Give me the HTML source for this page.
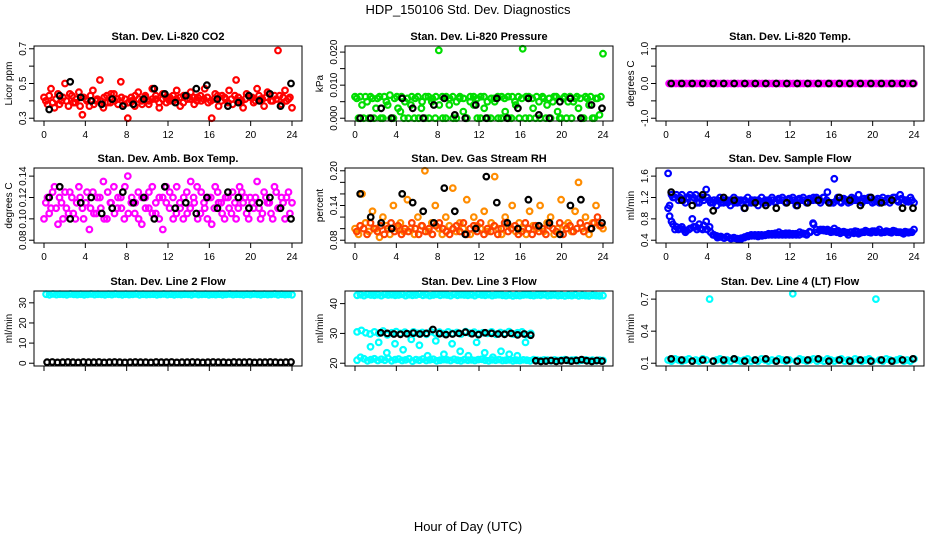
<!DOCTYPE html>
<html><head><meta charset="utf-8"><style>
body{margin:0;background:#fff;width:936px;height:540px;overflow:hidden;font-family:"Liberation Sans",sans-serif}
svg text{font-family:"Liberation Sans",sans-serif}
</style></head><body>
<svg id="chart" width="936" height="540" xmlns="http://www.w3.org/2000/svg">
<text x="468" y="14" text-anchor="middle" font-size="13">HDP_150106  Std. Dev. Diagnostics</text>
<text x="468" y="531" text-anchor="middle" font-size="13">Hour of Day (UTC)</text>
</svg>
<script>
const xTicks=[0,4,8,12,16,20,24];
// CO2
const co2Red=[0.42,0.38,0.47,0.36,0.44,0.40,0.50,0.37,0.43,0.39,0.45,0.32,0.41,0.37,0.46,0.40,0.52,0.36,0.43,0.39,0.44,0.41,0.51,0.38,0.30,0.42,0.37,0.45,0.40,0.43,0.38,0.47,0.41,0.36,0.44,0.39,0.42,0.40,0.46,0.37,0.43,0.41,0.45,0.38,0.42,0.40,0.47,0.39,0.30,0.44,0.37,0.43,0.41,0.46,0.38,0.52,0.40,0.36,0.44,0.42,0.39,0.47,0.41,0.37,0.45,0.40,0.43,0.69,0.38,0.46,0.41,0.36];
const co2Red2=[0.40,0.43,0.39,0.41,0.38,0.42,0.40,0.44,0.39,0.41,0.37,0.42,0.40,0.43,0.38,0.41,0.40,0.42,0.39,0.44,0.40,0.38,0.42,0.41,0.39,0.40,0.43,0.41,0.38,0.42,0.40,0.41,0.43,0.39,0.41,0.42,0.40,0.43,0.41,0.42,0.39,0.43,0.41,0.42,0.40,0.43,0.41,0.42,0.40,0.41,0.43,0.40,0.42,0.39,0.41,0.43,0.42,0.40,0.41,0.43,0.42,0.40,0.43,0.41,0.42,0.44,0.40,0.41,0.43,0.42,0.40,0.42];
const co2Black=[0.35,0.43,0.51,0.42,0.40,0.38,0.41,0.37,0.38,0.41,0.47,0.44,0.39,0.43,0.47,0.49,0.41,0.37,0.39,0.43,0.40,0.44,0.37,0.50];
// Pressure
const presGreen=[0.0065,0.000,0.004,0.0065,0.000,0.006,0.003,0.0065,0.000,0.005,0.0070,0.000,0.0065,0.002,0.000,0.006,0.004,0.000,0.0065,0.003,0.000,0.0065,0.005,0.000,0.0205,0.0065,0.000,0.004,0.0065,0.000,0.006,0.002,0.000,0.0065,0.004,0.000,0.0065,0.003,0.000,0.006,0.005,0.000,0.0065,0.002,0.000,0.0065,0.004,0.000,0.0210,0.0065,0.000,0.003,0.0065,0.000,0.006,0.004,0.000,0.0065,0.002,0.000,0.0065,0.005,0.000,0.006,0.003,0.000,0.0065,0.004,0.000,0.006,0.001,0.0195];
const presGreen2=[0.006,0.0065,0.000,0.005,0.0065,0.000,0.006,0.000,0.0065,0.004,0.000,0.006,0.003,0.0065,0.005,0.000,0.0065,0.006,0.000,0.005,0.0065,0.000,0.006,0.0065,0.004,0.000,0.0065,0.006,0.000,0.005,0.0065,0.006,0.000,0.005,0.0065,0.006,0.000,0.0065,0.005,0.000,0.006,0.0065,0.000,0.006,0.0065,0.000,0.005,0.0065,0.006,0.000,0.0065,0.006,0.000,0.005,0.0065,0.000,0.006,0.005,0.0065,0.000,0.006,0.000,0.0065,0.005,0.0065,0.006,0.000,0.006,0.0065,0.000,0.006,0.0065];
const presBlack=[0.000,0.000,0.003,0.000,0.006,0.003,0.000,0.004,0.006,0.001,0.000,0.004,0.000,0.006,0.000,0.003,0.006,0.001,0.000,0.005,0.006,0.000,0.004,0.003];
// Temperature
const tempMag=[0,0,0,0,0,0,0,0,0,0,0,0,0,0,0,0,0,0,0,0,0,0,0,0,0,0,0,0,0,0,0,0,0,0,0,0,0,0,0,0,0,0,0,0,0,0,0,0,0,0,0,0,0,0,0,0,0,0,0,0,0,0,0,0,0,0,0,0,0,0,0,0];
const tempBlack=[0,0,0,0,0,0,0,0,0,0,0,0,0,0,0,0,0,0,0,0,0,0,0,0];
// Amb box temp
const ambMag=[0.10,0.12,0.11,0.13,0.095,0.115,0.125,0.105,0.12,0.10,0.13,0.11,0.115,0.09,0.125,0.105,0.12,0.135,0.10,0.115,0.13,0.11,0.12,0.10,0.14,0.115,0.105,0.125,0.095,0.12,0.11,0.13,0.105,0.12,0.09,0.115,0.125,0.10,0.13,0.11,0.12,0.105,0.135,0.115,0.10,0.125,0.11,0.12,0.095,0.13,0.115,0.105,0.12,0.11,0.125,0.10,0.13,0.115,0.105,0.12,0.11,0.135,0.10,0.125,0.115,0.105,0.13,0.11,0.12,0.10,0.125,0.115];
const ambMag2=[0.115,0.105,0.125,0.11,0.12,0.10,0.11,0.125,0.105,0.115,0.12,0.10,0.125,0.11,0.105,0.12,0.11,0.10,0.125,0.115,0.105,0.12,0.11,0.13,0.105,0.12,0.115,0.10,0.12,0.11,0.125,0.105,0.115,0.10,0.12,0.13,0.11,0.12,0.105,0.115,0.10,0.125,0.11,0.12,0.13,0.105,0.115,0.10,0.12,0.11,0.125,0.115,0.10,0.12,0.105,0.115,0.11,0.125,0.12,0.10,0.115,0.12,0.11,0.105,0.12,0.115,0.10,0.125,0.11,0.115,0.12,0.105];
const ambBlack=[0.12,0.13,0.10,0.115,0.12,0.105,0.11,0.125,0.115,0.12,0.10,0.13,0.11,0.115,0.105,0.12,0.11,0.125,0.12,0.11,0.115,0.12,0.11,0.10];
// Gas stream RH
const rhOrange=[0.10,0.09,0.16,0.11,0.095,0.13,0.10,0.085,0.12,0.105,0.09,0.14,0.10,0.11,0.095,0.15,0.10,0.09,0.12,0.105,0.20,0.095,0.11,0.14,0.10,0.09,0.12,0.105,0.17,0.095,0.11,0.10,0.15,0.09,0.12,0.105,0.10,0.13,0.095,0.11,0.19,0.10,0.09,0.12,0.105,0.14,0.095,0.11,0.10,0.09,0.13,0.105,0.10,0.14,0.095,0.11,0.12,0.09,0.10,0.15,0.105,0.11,0.095,0.13,0.18,0.10,0.12,0.09,0.11,0.14,0.105,0.10];
const rhOrange2=[0.095,0.105,0.10,0.09,0.11,0.10,0.095,0.105,0.09,0.10,0.11,0.095,0.105,0.09,0.10,0.095,0.11,0.10,0.09,0.105,0.095,0.10,0.09,0.105,0.11,0.10,0.095,0.09,0.10,0.105,0.095,0.11,0.09,0.10,0.105,0.095,0.11,0.09,0.10,0.095,0.105,0.09,0.10,0.11,0.095,0.10,0.105,0.09,0.095,0.11,0.10,0.09,0.105,0.095,0.10,0.09,0.105,0.10,0.095,0.11,0.09,0.10,0.105,0.095,0.10,0.11,0.095,0.105,0.10,0.11,0.12,0.105];
const rhBlack=[0.16,0.12,0.11,0.10,0.16,0.145,0.13,0.11,0.17,0.13,0.09,0.10,0.19,0.145,0.11,0.10,0.15,0.105,0.11,0.09,0.14,0.15,0.10,0.11];
// Sample flow
const sfUpper=[1.65,1.25,1.2,1.15,1.25,1.1,1.2,1.15,1.25,1.1,1.2,1.35,1.15,1.1,1.05,1.2,1.1,1.15,1.05,1.2,1.1,1.15,1.0,1.2,1.1,1.15,1.05,1.2,1.1,1.15,1.2,1.1,1.15,1.2,1.1,1.15,1.2,1.05,1.15,1.2,1.1,1.15,1.2,1.15,1.1,1.2,1.3,1.1,1.55,1.2,1.1,1.15,1.1,1.2,1.15,1.25,1.1,1.15,1.2,1.1,1.15,1.1,1.2,1.15,1.1,1.2,1.15,1.25,1.1,1.15,1.2,1.1];
const sfUpper2=[1.05,1.2,1.25,1.2,1.15,1.2,1.25,1.2,1.1,1.2,1.15,1.2,1.1,1.15,1.15,1.1,1.15,1.1,1.15,1.1,1.15,1.1,1.15,1.1,1.15,1.1,1.15,1.12,1.15,1.1,1.15,1.12,1.18,1.15,1.12,1.18,1.15,1.12,1.18,1.15,1.12,1.18,1.15,1.2,1.15,1.2,1.15,1.1,1.1,1.15,1.12,1.18,1.15,1.12,1.18,1.15,1.12,1.18,1.15,1.2,1.12,1.18,1.15,1.12,1.18,1.15,1.2,1.12,1.18,1.15,1.12,1.15];
const sfLower=[1.0,0.75,0.6,0.6,0.65,0.55,0.6,0.8,0.65,0.7,0.6,0.75,0.65,0.5,0.48,0.46,0.45,0.47,0.44,0.45,0.43,0.42,0.45,0.48,0.5,0.48,0.47,0.5,0.49,0.5,0.52,0.5,0.55,0.5,0.53,0.5,0.52,0.5,0.55,0.52,0.5,0.55,0.7,0.55,0.6,0.58,0.6,0.55,0.62,0.58,0.55,0.55,0.5,0.55,0.57,0.52,0.55,0.58,0.55,0.57,0.55,0.6,0.55,0.57,0.55,0.58,0.55,0.55,0.52,0.55,0.55,0.6];
const sfLower2=[0.85,0.7,0.65,0.62,0.6,0.58,0.62,0.65,0.6,0.62,0.68,0.6,0.55,0.5,0.45,0.47,0.44,0.46,0.43,0.44,0.42,0.44,0.46,0.47,0.48,0.5,0.5,0.48,0.5,0.52,0.5,0.53,0.5,0.52,0.5,0.53,0.5,0.52,0.5,0.53,0.52,0.56,0.72,0.6,0.58,0.6,0.57,0.58,0.56,0.55,0.53,0.56,0.54,0.55,0.53,0.56,0.54,0.55,0.56,0.54,0.57,0.56,0.54,0.55,0.56,0.54,0.57,0.55,0.54,0.56,0.54,0.55];
const sfBlack=[1.3,1.15,1.05,1.25,0.95,1.2,1.15,1.0,1.1,1.05,1.0,1.1,1.05,1.1,1.15,1.1,1.2,1.15,1.05,1.2,1.1,1.15,1.0,1.0];
// Line 2
const l2Cyan=[34.3,34.0,34.4,34.1,34.3,34.2,34.0,34.4,34.2,34.1,34.3,34.0,34.2,34.4,34.1,34.3,34.2,34.0,34.3,34.1,34.4,34.2,34.0,34.3,34.1,34.2,34.4,34.0,34.3,34.1,34.2,34.3,34.0,34.2,34.4,34.1,34.3,34.0,34.2,34.1,34.3,34.2,34.0,34.4,34.1,34.2,34.3,34.0,34.2,34.1,34.3,34.0,34.2,34.4,34.1,34.3,34.2,34.0,34.3,34.1,34.4,34.2,34.0,34.3,34.1,34.2,34.4,34.0,34.3,34.1,34.2,34.0];
const l2Black=[0.5,0.6,0.4,0.5,0.6,0.5,0.4,0.6,0.5,0.5,0.6,0.4,0.5,0.6,0.5,0.4,0.5,0.6,0.5,0.5,0.4,0.6,0.5,0.5,0.6,0.4,0.5,0.5,0.6,0.5,0.4,0.5,0.6,0.5,0.5,0.4,0.6,0.5,0.5,0.6,0.4,0.5,0.5,0.6,0.5,0.4,0.5,0.6];
// Line 3
const l3Top=[42.8,43.0,42.7,43.1,42.9,42.8,43.0,42.7,43.1,42.9,43.0,42.8,42.9,43.1,42.7,43.0,42.8,42.9,43.2,42.8,43.0,42.7,42.9,43.1,42.8,43.0,42.9,42.7,43.1,42.8,43.0,42.9,42.8,43.0,42.7,43.1,42.9,42.8,43.0,42.7,42.9,43.0,42.8,42.7,42.9,42.6,42.8,42.7,42.9,43.0,42.8,42.7,42.9,42.8,43.0,42.7,42.8,42.9,42.7,42.8,42.6,42.8,42.7,42.9,42.6,42.8,42.7,42.6,42.8,42.7,42.6,42.7];
const l3Mid=[30.5,31.0,30.2,29.8,30.5,30.0,30.8,29.5,30.2,30.6,30.0,30.4,29.8,30.5,30.0,30.3,29.7,30.6,30.1,30.4,29.9,30.5,30.0,30.3,29.8,30.6,30.1,30.4,29.9,30.2,30.0,30.5,29.7,30.3,30.0,30.6,29.8,30.2,30.5,29.6,30.0];
const l3Scatter=[25.5,27.0,23.5,26.5,24.5,28.0,26.0,22.5,27.5,23.0,26.5,24.0,22.5,27.0,23.5,22.0,24.0,23.0,22.5,27.0];
const l3Low=[21.0,22.0,21.5,20.8,21.2,21.5,20.9,21.3,21.0,21.6,20.8,21.2,21.4,20.9,21.1,21.5,20.7,21.2,21.0,21.4,20.9,21.1,21.3,20.8,21.0,21.2,21.1,20.9,21.3,21.0,20.8,21.2,21.0,21.1,20.9,21.2,21.3,21.0,20.8,21.1,21.0,21.2,20.9,21.0,21.1,20.8,21.0,20.9,21.1,21.0,20.8,21.2,21.0,20.9,21.1,21.0,20.8,21.1,20.9,21.0,21.2,20.9,21.0,21.1,20.8,21.0,21.1,20.9,21.0,20.8,21.0,20.9];
const l3BlackMid=[30.2,30.0,29.8,29.7,29.9,30.1,29.8,30.0,31.3,29.9,29.6,29.8,30.0,30.4,29.9,29.6,30.2,30.0,29.8,29.7,30.0,29.5,29.8,29.4];
const l3BlackLow=[20.8,20.6,20.7,20.9,20.6,20.8,21.0,20.7,20.9,21.2,20.8,20.6,20.9,20.7];
// Line 4
const l4Cyan=[0.13,0.12,0.14,0.13,0.12,0.13,0.14,0.12,0.13,0.12,0.14,0.13,0.70,0.12,0.13,0.14,0.12,0.13,0.12,0.14,0.13,0.12,0.13,0.14,0.12,0.13,0.12,0.14,0.13,0.12,0.13,0.12,0.14,0.13,0.12,0.13,0.75,0.12,0.14,0.13,0.12,0.13,0.14,0.12,0.13,0.12,0.14,0.13,0.12,0.13,0.14,0.12,0.13,0.12,0.14,0.13,0.12,0.13,0.14,0.12,0.70,0.13,0.12,0.14,0.13,0.12,0.13,0.14,0.12,0.13,0.12,0.14];
const l4Black=[0.14,0.13,0.12,0.13,0.12,0.13,0.14,0.12,0.13,0.14,0.12,0.13,0.12,0.13,0.14,0.12,0.13,0.12,0.13,0.12,0.13,0.12,0.13,0.14];

const panels=[
 {t:"Stan. Dev. Li-820 CO2",yl:"Licor ppm",lim:[0.3,0.7],ticks:[0.3,0.4,0.5,0.6,0.7],labs:["0.3","","0.5","","0.7"],s:[[co2Red,"#ff0000",0,24],[co2Red2,"#ff0000",0.17,23.8],[co2Black,"#000",0.5,23.9]]},
 {t:"Stan. Dev. Li-820 Pressure",yl:"kPa",lim:[0,0.021],ticks:[0,0.005,0.01,0.015,0.02],labs:["0.000","","0.010","","0.020"],s:[[presGreen,"#00dd00",0,24],[presGreen2,"#00dd00",0.17,23.8],[presBlack,"#000",0.5,23.9]]},
 {t:"Stan. Dev. Li-820 Temp.",yl:"degrees C",lim:[-1,1],ticks:[-1,-0.5,0,0.5,1],labs:["-1.0","","0.0","","1.0"],s:[[tempMag,"#ff00ff",0.3,24],[tempBlack,"#000",0.5,23.9]]},
 {t:"Stan. Dev. Amb. Box Temp.",yl:"degrees C",lim:[0.08,0.145],ticks:[0.08,0.10,0.12,0.14],labs:["0.08","0.10","0.12","0.14"],s:[[ambMag,"#ff00ff",0,24],[ambMag2,"#ff00ff",0.17,23.8],[ambBlack,"#000",0.5,23.9]]},
 {t:"Stan. Dev. Gas Stream RH",yl:"percent",lim:[0.08,0.2],ticks:[0.08,0.10,0.12,0.14,0.16,0.18,0.2],labs:["0.08","","","0.14","","","0.20"],s:[[rhOrange,"#ff8c00",0,24],[rhOrange2,"#ff4000",0.17,23.8],[rhBlack,"#000",0.5,23.9]]},
 {t:"Stan. Dev. Sample Flow",yl:"ml/min",lim:[0.4,1.7],ticks:[0.4,0.8,1.2,1.6],labs:["0.4","0.8","1.2","1.6"],s:[[sfUpper,"#0000ff",0.2,24],[sfUpper2,"#0000ff",0.35,23.8],[sfLower,"#0000ff",0.2,24],[sfLower2,"#0000ff",0.35,23.8],[sfBlack,"#000",0.5,23.9]]},
 {t:"Stan. Dev. Line 2 Flow",yl:"ml/min",lim:[0,34.5],ticks:[0,10,20,30],labs:["0","10","20","30"],s:[[l2Cyan,"#00ffff",0.2,24],[l2Black,"#000",0.3,23.9]]},
 {t:"Stan. Dev. Line 3 Flow",yl:"ml/min",lim:[20,43.3],ticks:[20,30,40],labs:["20","30","40"],s:[[l3Top,"#00ffff",0.2,24],[l3Mid,"#00ffff",0.2,17],[l3Scatter,"#00ffff",1.5,16.5],[l3Low,"#00ffff",0.2,24],[l3BlackMid,"#000",2.5,17],[l3BlackLow,"#000",17.5,23.9]]},
 {t:"Stan. Dev. Line 4 (LT) Flow",yl:"ml/min",lim:[0.1,0.75],ticks:[0.1,0.4,0.7],labs:["0.1","0.4","0.7"],s:[[l4Cyan,"#00ffff",0.2,24],[l4Black,"#000",0.5,23.9]]}
];
const NS="http://www.w3.org/2000/svg";
const svg=document.getElementById('chart');
function mk(tag,at,parent){const e=document.createElementNS(NS,tag);for(const k in at)e.setAttribute(k,at[k]);(parent||svg).appendChild(e);return e;}
const colL=[34,345,656],rowT=[46,168,291],W=268,H=75;
panels.forEach((p,pi)=>{
 const L=colL[pi%3],T=rowT[Math.floor(pi/3)];
 const g=mk('g',{});
 
 
 const x=v=>L+10+v*(W-20)/24;
 const [a,b]=p.lim;const pad=(b-a)*0.04;
 const y=v=>T+H-(v-(a-pad))/((b-a)+2*pad)*H;
 const tt=mk('text',{x:L+W/2,y:T-6,'text-anchor':'middle','font-size':11,'font-weight':'bold'},g);
 tt.textContent=p.t;
 
 
 p.s.forEach((s,si)=>{
  const [vals,col,x0,x1]=s;const n=vals.length;
  const sg=mk('g',{fill:'none',stroke:col,'stroke-width':2.2},g);
  
  
  vals.forEach((v,i)=>{
   const hx=x0+(x1-x0)*(n>1?i/(n-1):0);
   const c=mk('circle',{cx:x(hx).toFixed(1),cy:y(v).toFixed(1),r:2.8},sg);
   
   
  });
 });
 const box=mk('rect',{x:L,y:T,width:W,height:H,fill:'none',stroke:'#000','stroke-width':1},g);
 
 
 xTicks.forEach(v=>{
  mk('line',{x1:x(v),x2:x(v),y1:T+H,y2:T+H+5,stroke:'#000'},g);
  if(pi<6){const t=mk('text',{x:x(v),y:T+H+17,'text-anchor':'middle','font-size':10},g);t.textContent=v;
   
   }
 });
 mk('line',{x1:x(0),x2:x(24),y1:T+H,y2:T+H,stroke:'#000'},g);
 p.ticks.forEach((v,i)=>{
  mk('line',{x1:L-5,x2:L,y1:y(v),y2:y(v),stroke:'#000'},g);
  if(p.labs[i]){const t=mk('text',{x:0,y:0,'text-anchor':'middle','font-size':10,transform:`translate(${L-8},${y(v)}) rotate(-90)`},g);t.textContent=p.labs[i];
   
   }
 });
 mk('line',{x1:L,x2:L,y1:y(p.ticks[0]),y2:y(p.ticks[p.ticks.length-1]),stroke:'#000'},g);
 const yl=mk('text',{x:0,y:0,'text-anchor':'middle','font-size':10,transform:`translate(${L-22},${T+H/2}) rotate(-90)`},g);
 yl.textContent=p.yl;
 
 
});
</script>
</body></html>
